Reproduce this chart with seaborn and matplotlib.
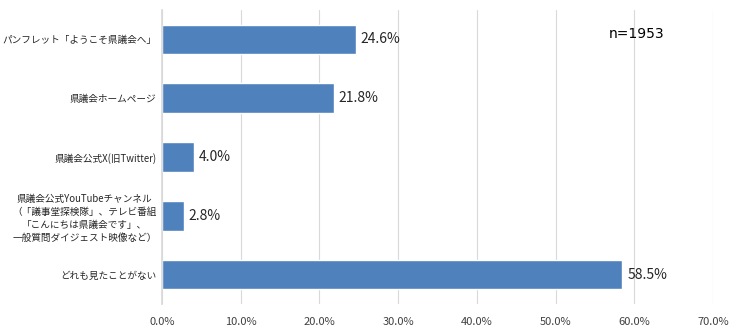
import matplotlib
matplotlib.use("Agg")
import matplotlib.pyplot as plt
import seaborn as sns
import pandas as pd
from matplotlib.ticker import FuncFormatter

categories = [
    "パンフレット「ようこそ県議会へ」",
    "県議会ホームページ",
    "県議会公式X(旧Twitter)",
    "県議会公式YouTubeチャンネル\n（「議事堂探検隊」、テレビ番組\n「こんにちは県議会です」、\n一般質問ダイジェスト映像など）",
    "どれも見たことがない",
]
values = [24.6, 21.8, 4.0, 2.8, 58.5]
x_ticks = [0, 10, 20, 30, 40, 50, 60, 70]
sample_note = "n=1953"

sns.set_theme(style="white")
plt.rcParams["font.family"] = ["Noto Sans CJK JP", "DejaVu Sans"]

df = pd.DataFrame({"category": categories, "value": values})

fig = plt.figure(figsize=(7.4, 3.33), dpi=100)
ax = fig.add_axes([0.219, 0.087, 0.7445, 0.883])

sns.barplot(data=df, x="value", y="category", orient="h", color="#4F81BD",
            width=0.5, saturation=1, ax=ax)

ax.set_xlim(0, 70)
ax.set_xticks(x_ticks)
ax.xaxis.set_major_formatter(FuncFormatter(lambda v, p: f"{v:.1f}%"))
ax.grid(axis="x", color="#d9d9d9", linewidth=0.8)
ax.set_axisbelow(True)
for s in ["top", "right", "bottom"]:
    ax.spines[s].set_visible(False)
ax.spines["left"].set_color("#d9d9d9")
ax.set_xlabel("")
ax.set_ylabel("")
ax.tick_params(axis="x", labelsize=8, colors="#404040", length=0, pad=9)
ax.tick_params(axis="y", labelsize=6.95, colors="#262626", length=0, pad=4)
for lbl in ax.get_yticklabels():
    lbl.set_horizontalalignment("right")
    lbl.set_multialignment("center")
    lbl.set_linespacing(1.4)

for i, v in enumerate(values):
    ax.text(v + 0.6, i, f"{v:.1f}%", va="center", ha="left", fontsize=10, color="#262626")

ax.text(0.862, 0.92, sample_note, transform=ax.transAxes, ha="center", va="center",
        fontsize=10, color="#000000", family="DejaVu Sans")

fig.savefig("out.png", dpi=100)
